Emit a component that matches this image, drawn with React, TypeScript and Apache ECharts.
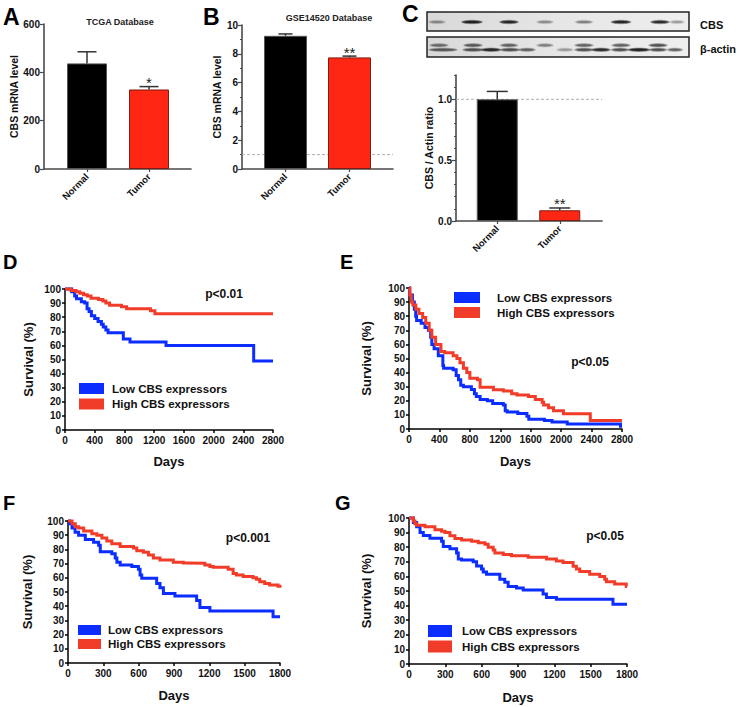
import React, { useEffect, useRef } from 'react';
import * as echarts from 'echarts';

const FONT = '"Liberation Sans", Arial, Helvetica, sans-serif';
const BLUE = '#0B2DFF';
const RED = '#F03C28';
const BAR_RED = '#FF2614';
const AX = '#4a4a4a';
const ERR = '#333';

// ---------- bar panels ----------
const barCategories = ['Normal', 'Tumor'];
const tcgaMean = [437, 329];
const tcgaErr = [48, 12];
const tcgaSig = ['', '*'];
const gseMean = [9.25, 7.75];
const gseErr = [0.13, 0.09];
const gseSig = ['', '**'];
const wbMean = [1.0, 0.088];
const wbErr = [0.065, 0.019];
const wbSig = ['', '**'];

// ---------- survival curves [days, survival %] ----------
const lowLabel = 'Low CBS expressors';
const highLabel = 'High CBS expressors';

const survDLow = [[0,100],[90,98],[130,95],[155,93],[220,91],[265,90],[297,86],[324,84],[355,81],[400,79],[445,77],[490,75],[515,73],[550,71],[580,69],[785,64.5],[875,62.5],[1360,60],[2540,49],[2800,49]];
const survDHigh = [[0,100],[80,99],[150,98],[200,97],[250,96],[300,95],[350,93.5],[450,92.5],[510,91.5],[550,90],[600,88.5],[760,87.5],[830,86],[1150,84.5],[1210,82.5],[2800,82.5]];

const survELow = [[0,100],[10,95],[45,90],[70,85],[88,80],[100,77],[160,75],[210,72],[255,70],[285,65],[300,60],[330,57],[385,52],[445,45],[455,43],[580,42],[620,38],[650,35],[680,31],[715,30],[820,28],[860,25],[885,23],[935,21],[1030,20],[1100,18],[1240,17],[1265,13],[1290,12],[1430,11],[1550,9],[1575,7],[1780,6],[1880,5],[2080,3.5],[2780,2],[2800,2]];
const survEHigh = [[0,100],[10,95],[30,90],[50,88],[90,85],[130,82],[180,79],[220,75],[265,70],[300,65],[350,60],[420,55],[470,54],[580,52],[630,50],[670,47],[715,43],[760,40],[800,36],[900,35],[935,29.6],[1110,27.8],[1240,27],[1350,25],[1420,24.2],[1570,23],[1660,21],[1750,19],[1770,17],[1835,15],[1900,13],[2030,10.8],[2383,6],[2800,6]];

const survFLow = [[0,100],[15,98],[34,95],[60,92],[90,90],[147,87],[217,85],[260,83],[274,78.4],[372,77],[401,74],[415,71],[443,69],[542,68],[598,66],[612,62],[626,59.6],[753,56],[781,53],[810,49],[908,47.2],[1092,44],[1120,39],[1205,36.6],[1741,32.6],[1800,32.6]];
const survFHigh = [[0,100],[34,98],[62,96],[90,95],[133,93],[203,91],[245,90],[288,88],[330,86],[372,84],[443,82],[556,81],[584,79],[640,78],[683,76],[725,74],[781,72.5],[894,71],[979,70.5],[1007,70.2],[1162,69],[1205,68],[1233,67.4],[1360,66],[1402,63],[1430,62],[1487,61],[1571,60],[1600,59],[1628,57.3],[1670,56],[1712,55],[1783,54],[1800,53]];

const survGLow = [[0,100],[36,97],[63,94],[91,90],[118,88],[173,86.2],[269,84],[283,80.5],[338,79],[393,76],[407,72],[434,71.3],[530,70],[558,67.2],[599,65],[613,63],[640,61.5],[750,58],[791,56],[819,53],[888,52],[943,50.7],[1107,48],[1135,45.6],[1217,44.3],[1684,41],[1800,41]];
const survGHigh = [[0,100],[36,98],[49,96],[63,95],[132,94],[214,92],[269,91],[297,90],[338,87.9],[379,86],[434,85],[517,84],[572,83],[627,82],[654,80],[695,78],[709,76],[778,75],[846,74.1],[984,73.2],[1135,72],[1217,70.5],[1272,69.5],[1355,67],[1382,65],[1410,63.3],[1492,61.5],[1575,60],[1616,58],[1630,56.4],[1698,54.8],[1794,53],[1800,53]];

// ---------- western blot band pictures: [lane centre, band width, intensity] ----------
const cbsBands = [[10,16,0.3],[45,20,0.95],[82,18,0.9],[118,16,0.3],[157,17,0.35],[194,19,0.9],[233,18,0.85],[250,14,0.25]];
const actinUpper = [[12,18,0.45],[46,18,0.55],[82,17,0.5],[118,16,0.35],[157,18,0.5],[194,18,0.5],[231,18,0.6]];
const actinLower = [[16,28,0.55],[46,20,0.6],[64,19,0.9],[83,19,0.6],[100,16,0.5],[138,16,0.25],[157,18,0.6],[174,18,0.85],[193,17,0.6],[212,21,0.95],[231,17,0.6],[248,15,0.5]];

function buildOption() {
  const grids: any[] = [];
  const xAxes: any[] = [];
  const yAxes: any[] = [];
  const series: any[] = [];
  const legends: any[] = [];
  const graphics: any[] = [];

  const nameStyle = { fontSize: 10.5, fontWeight: 'bold', color: '#111', fontFamily: FONT };

  function addBarPanel(p: any) {
    const gLine = grids.length;
    grids.push({ left: p.left, top: p.top, width: p.width, height: p.height });
    const gBar = grids.length;
    grids.push({ left: p.barLeft, top: p.top, width: p.barArea, height: p.height });

    const xLine = xAxes.length;
    xAxes.push({ type: 'value', gridIndex: gLine, min: 0, max: 1, position: 'bottom',
      axisLine: { show: true, lineStyle: { color: AX, width: 1.6 } },
      axisTick: { show: false }, axisLabel: { show: false }, splitLine: { show: false } });
    const yLine = yAxes.length;
    yAxes.push({ type: 'value', gridIndex: gLine, min: 0, max: p.yMax, interval: p.yInterval, position: 'left',
      name: p.yName, nameLocation: 'middle', nameGap: p.nameGap, nameTextStyle: nameStyle,
      axisLine: { show: true, lineStyle: { color: AX, width: 1.6 } },
      axisTick: p.tickCustom ? { show: true, length: 4, customValues: p.tickCustom, lineStyle: { color: AX, width: 1.2 } }
        : { show: true, length: 4, lineStyle: { color: AX, width: 1.2 } },
      minorTick: p.minor ? { show: true, splitNumber: p.minor, length: 2, lineStyle: { color: AX, width: 1 } } : { show: false },
      axisLabel: p.tickCustom ? { fontSize: 10, fontWeight: 'bold', color: '#111', margin: 4, customValues: p.tickCustom, formatter: p.yFmt }
        : { fontSize: 10, fontWeight: 'bold', color: '#111', margin: 4, formatter: p.yFmt },
      splitLine: { show: false } });
    if (p.fineTicks) {
      yAxes.push({ type: 'value', gridIndex: gLine, min: 0, max: p.yMax, interval: p.fineTicks, position: 'left',
        axisLine: { show: false }, axisTick: { show: true, length: 2, lineStyle: { color: AX, width: 1 } },
        axisLabel: { show: false }, splitLine: { show: false } });
    }
    const xBar = xAxes.length;
    xAxes.push({ type: 'category', gridIndex: gBar, data: barCategories, position: 'bottom',
      axisLine: { show: false },
      axisTick: { show: true, alignWithLabel: true, length: 3, lineStyle: { color: AX, width: 1.2 } },
      axisLabel: { rotate: 45, interval: 0, fontSize: 9.5, fontWeight: 'bold', color: '#111', margin: 6 } });
    const yBar = yAxes.length;
    yAxes.push({ type: 'value', gridIndex: gBar, min: 0, max: p.yMax, show: false });

    if (p.ref != null) {
      series.push({ type: 'line', xAxisIndex: xLine, yAxisIndex: yLine, data: [[0, p.ref], [1, p.ref]],
        symbol: 'none', silent: true, z: 1, lineStyle: { type: [3, 2], color: '#b0b0b0', width: 1 } });
    }
    series.push({ type: 'bar', xAxisIndex: xBar, yAxisIndex: yBar, barWidth: p.barW, z: 2, silent: true,
      data: p.means.map((v: number, i: number) => ({ value: v, itemStyle: {
        color: i === 0 ? '#000' : BAR_RED, borderColor: i === 0 ? '#555' : '#7d1c12', borderWidth: 1 } })) });
    const sigs = p.sigs;
    const cap = p.cap;
    series.push({ type: 'custom', xAxisIndex: xBar, yAxisIndex: yBar, z: 5, silent: true,
      data: p.means.map((v: number, i: number) => [i, v, p.errs[i]]),
      renderItem: (params: any, api: any) => {
        const i = params.dataIndex;
        const b = api.coord([api.value(0), api.value(1)]);
        const t = api.coord([api.value(0), api.value(1) + api.value(2)]);
        const children: any[] = [
          { type: 'line', shape: { x1: b[0], y1: b[1], x2: t[0], y2: t[1] }, style: { stroke: ERR, lineWidth: 1.5 } },
          { type: 'line', shape: { x1: t[0] - cap / 2, y1: t[1], x2: t[0] + cap / 2, y2: t[1] }, style: { stroke: ERR, lineWidth: 1.5 } },
        ];
        if (sigs[i]) {
          children.push({ type: 'text', x: t[0], y: t[1] + 3.5,
            style: { text: sigs[i], align: 'center', verticalAlign: 'bottom', font: `15px ${FONT}`, fill: '#222' } });
        }
        return { type: 'group', children };
      } });
  }

  addBarPanel({ left: 44, top: 24, width: 147, height: 145, barLeft: 56, barArea: 124, barW: 40,
    yMax: 600, yInterval: 200, yName: 'CBS mRNA level', nameGap: 19,
    means: tcgaMean, errs: tcgaErr, sigs: tcgaSig, cap: 19 });
  addBarPanel({ left: 242, top: 25, width: 151, height: 144, barLeft: 253.5, barArea: 128, barW: 43,
    yMax: 10, yInterval: 2, minor: 2, yName: 'CBS mRNA level', nameGap: 14, ref: 1,
    means: gseMean, errs: gseErr, sigs: gseSig, cap: 14 });
  addBarPanel({ left: 456, top: 75, width: 146, height: 146, barLeft: 466, barArea: 125, barW: 41,
    yMax: 1.2, yInterval: 0.5, tickCustom: [0, 0.5, 1], fineTicks: 0.1,
    yFmt: (v: number) => (Math.abs(v * 2 - Math.round(v * 2)) < 1e-6 ? v.toFixed(1) : ''),
    yName: 'CBS / Actin ratio', nameGap: 16, ref: 1,
    means: wbMean, errs: wbErr, sigs: wbSig, cap: 21 });

  function addSurvPanel(p: any) {
    const g = grids.length;
    grids.push({ left: p.left, top: p.top, width: p.width, height: p.height });
    const xi = xAxes.length;
    xAxes.push({ type: 'value', gridIndex: g, min: 0, max: p.xMax, interval: p.xInterval,
      name: 'Days', nameLocation: 'middle', nameGap: p.xNameGap,
      nameTextStyle: { fontSize: 13, fontWeight: 'bold', color: '#111', fontFamily: FONT },
      axisLine: { show: true, lineStyle: { color: '#000', width: 1.5 } },
      axisTick: { show: true, length: 3, lineStyle: { color: '#000', width: 1.5 } },
      axisLabel: { fontSize: 10, fontWeight: 'bold', color: '#111', margin: 5, formatter: (v: number) => String(v) },
      splitLine: { show: false } });
    const yi = yAxes.length;
    yAxes.push({ type: 'value', gridIndex: g, min: 0, max: 100, interval: 10,
      name: 'Survival (%)', nameLocation: 'middle', nameGap: p.yNameGap,
      nameTextStyle: { fontSize: 13, fontWeight: 'bold', color: '#111', fontFamily: FONT },
      axisLine: { show: true, lineStyle: { color: '#000', width: 1.5 } },
      axisTick: { show: true, length: 3, lineStyle: { color: '#000', width: 1.5 } },
      axisLabel: { fontSize: 10, fontWeight: 'bold', color: '#111', margin: 4, formatter: (v: number) => String(v) },
      splitLine: { show: false } });
    series.push({ type: 'line', name: lowLabel, xAxisIndex: xi, yAxisIndex: yi, data: p.low, step: 'end',
      symbol: 'none', clip: false, silent: true, color: BLUE, itemStyle: { color: BLUE },
      lineStyle: { color: BLUE, width: 3, join: 'miter' } });
    series.push({ type: 'line', name: highLabel, xAxisIndex: xi, yAxisIndex: yi, data: p.high, step: 'end',
      symbol: 'none', clip: false, silent: true, color: RED, itemStyle: { color: RED },
      lineStyle: { color: RED, width: 3, join: 'miter' } });
    legends.push({ left: p.lg.left, top: p.lg.top, orient: 'vertical', icon: 'rect', selectedMode: false,
      itemWidth: p.lg.w, itemHeight: p.lg.h, itemGap: p.lg.gap, padding: 0,
      data: [{ name: lowLabel, itemStyle: { color: BLUE } }, { name: highLabel, itemStyle: { color: RED } }],
      textStyle: { fontSize: 11.5, fontWeight: 'bold', color: '#111', fontFamily: FONT, lineHeight: 12,
        padding: [0, 0, 0, p.lg.tp] } });
    graphics.push({ type: 'text', x: p.pX, y: p.pY, silent: true,
      style: { text: p.pText, align: 'center', verticalAlign: 'middle', font: `bold 12px ${FONT}`, fill: '#111' } });
  }

  addSurvPanel({ left: 65, top: 289, width: 208, height: 141, xMax: 2800, xInterval: 400, xNameGap: 25, yNameGap: 30,
    low: survDLow, high: survDHigh, lg: { left: 79, top: 382.5, w: 25, h: 11, gap: 3.5, tp: 3 },
    pText: 'p<0.01', pX: 224, pY: 294 });
  addSurvPanel({ left: 409, top: 288, width: 213, height: 141, xMax: 2800, xInterval: 400, xNameGap: 26, yNameGap: 36,
    low: survELow, high: survEHigh, lg: { left: 454, top: 291.5, w: 26, h: 11, gap: 3, tp: 12 },
    pText: 'p<0.05', pX: 590, pY: 362 });
  addSurvPanel({ left: 68, top: 521, width: 212, height: 142, xMax: 1800, xInterval: 300, xNameGap: 26, yNameGap: 34,
    low: survFLow, high: survFHigh, lg: { left: 78, top: 624, w: 23, h: 10, gap: 2, tp: 2 },
    pText: 'p<0.001', pX: 248, pY: 538 });
  addSurvPanel({ left: 409, top: 518, width: 218, height: 146, xMax: 1800, xInterval: 300, xNameGap: 27, yNameGap: 36,
    low: survGLow, high: survGHigh, lg: { left: 428, top: 625, w: 24, h: 12, gap: 3.5, tp: 5 },
    pText: 'p<0.05', pX: 605, pY: 536 });

  // titles of the bar panels
  graphics.push({ type: 'text', x: 120, y: 22, silent: true,
    style: { text: 'TCGA Database', align: 'center', verticalAlign: 'middle', font: `bold 9px ${FONT}`, fill: '#222' } });
  graphics.push({ type: 'text', x: 329, y: 18, silent: true,
    style: { text: 'GSE14520 Database', align: 'center', verticalAlign: 'middle', font: `bold 9px ${FONT}`, fill: '#222' } });

  // panel letters
  const letters: [string, number, number, number][] = [
    ['A', 3, 17, 23], ['B', 203, 16.5, 23], ['C', 402, 14, 23],
    ['D', 3, 262, 20], ['E', 340, 262, 20], ['F', 3, 503, 20], ['G', 335, 503, 20],
  ];
  letters.forEach(([t, x, y, s]) => graphics.push({ type: 'text', x, y, silent: true,
    style: { text: t, align: 'left', verticalAlign: 'middle', font: `bold ${s}px ${FONT}`, fill: '#000' } }));

  // western blot pictures (flat soft bands: faint halo + darker core)
  const band = (cx: number, cy: number, w: number, a: number) => ({
    type: 'group', children: [
      { type: 'ellipse', shape: { cx, cy, rx: w / 2 + 1, ry: 2.3 }, style: { fill: `rgba(30,30,30,${(a * 0.3).toFixed(3)})` } },
      { type: 'ellipse', shape: { cx, cy, rx: w / 2, ry: 1.7 }, style: { fill: `rgba(20,20,20,${(a * 0.55).toFixed(3)})` } },
      { type: 'ellipse', shape: { cx, cy, rx: w / 2 - 1.5, ry: 1.1 }, style: { fill: `rgba(10,10,10,${(a * 0.75).toFixed(3)})` } },
    ] });
  const boxFill = () => new echarts.graphic.LinearGradient(0, 0, 1, 0, [
    { offset: 0, color: '#d8d8d8' }, { offset: 0.5, color: '#e6e6e6' }, { offset: 1, color: '#eeeeee' }]);
  graphics.push({ type: 'group', x: 427, y: 12, silent: true, children: [
    { type: 'rect', shape: { x: 0, y: 0, width: 262, height: 19 }, style: { fill: boxFill(), stroke: '#222', lineWidth: 1.5 } },
    ...cbsBands.map(([c, w, a]) => band(c, 10, w, a)),
  ] });
  graphics.push({ type: 'group', x: 427, y: 37, silent: true, children: [
    { type: 'rect', shape: { x: 0, y: 0, width: 262, height: 20 }, style: { fill: boxFill(), stroke: '#222', lineWidth: 1.5 } },
    ...actinUpper.map(([c, w, a]) => band(c, 8.3, w, a)),
    ...actinLower.map(([c, w, a]) => band(c, 12.8, w, a)),
  ] });
  graphics.push({ type: 'text', x: 700, y: 25, silent: true,
    style: { text: 'CBS', align: 'left', verticalAlign: 'middle', font: `bold 11px ${FONT}`, fill: '#111' } });
  graphics.push({ type: 'text', x: 700, y: 49, silent: true,
    style: { text: 'β-actin', align: 'left', verticalAlign: 'middle', font: `bold 11px ${FONT}`, fill: '#111' } });

  return {
    animation: false,
    backgroundColor: '#fff',
    textStyle: { fontFamily: FONT },
    grid: grids,
    xAxis: xAxes,
    yAxis: yAxes,
    legend: legends,
    series,
    graphic: { elements: graphics },
  };
}

export default function App() {
  const ref = useRef<HTMLDivElement>(null);
  useEffect(() => {
    document.body.style.margin = '0';
    const chart = echarts.init(ref.current as HTMLDivElement, null, { renderer: 'svg' });
    chart.setOption(buildOption() as any);
    return () => chart.dispose();
  }, []);
  return <div ref={ref} style={{ width: 740, height: 707, background: '#fff' }} />;
}
